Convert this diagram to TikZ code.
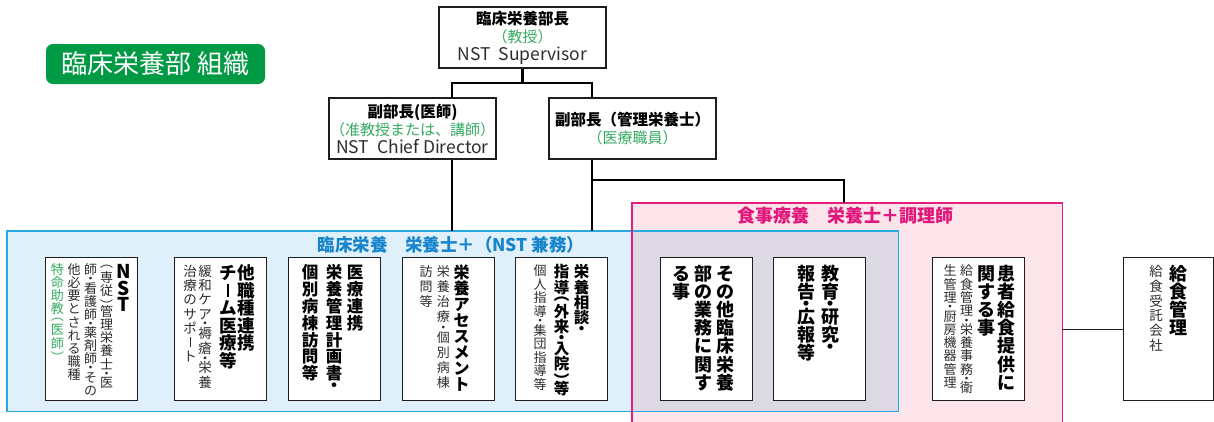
\documentclass[tikz,border=0pt]{standalone}
\usepackage{fontspec}
\setmainfont{Noto Sans CJK JP}
\definecolor{tgreen}{RGB}{0,153,68}
\definecolor{ngreen}{RGB}{52,170,96}
\definecolor{txt}{RGB}{45,45,45}
\definecolor{boxline}{RGB}{30,30,30}
\definecolor{bluel}{RGB}{40,168,224}
\definecolor{bluef}{RGB}{223,240,250}
\definecolor{bluet}{RGB}{24,132,204}
\definecolor{pinkl}{RGB}{228,30,126}
\definecolor{pinkf}{RGB}{251,228,234}
\definecolor{pinkt}{RGB}{226,22,122}
\definecolor{ovf}{RGB}{220,216,228}
\makeatletter
\newdimen\vt@p
\newdimen\vtbarw \vtbarw=1pt
\newcount\vt@g
\newdimen\vt@t \newdimen\vt@d \newdimen\vt@l \newdimen\vt@r
\def\vt@lp{（}\def\vt@rp{）}\def\vt@dot{・}\def\vt@bar{ー}
\newcommand\vtcol[2]{\vt@p=#1\relax\vbox{\offinterlineskip\vt@loop#2\relax}}
\def\vt@loop#1{\ifx\relax#1\else\vt@one{#1}\expandafter\vt@loop\fi}
\def\vt@one#1{\def\vt@c{#1}%
  \ifx\vt@c\vt@lp\vt@part{︵}{.3}\else
  \ifx\vt@c\vt@rp\vt@part{︶}{.3}\else
  \ifx\vt@c\vt@dot\vt@part{・}{.2}\else
  \ifx\vt@c\vt@bar\vt@barcell\else
  \vt@full{#1}\fi\fi\fi\fi}
\def\vt@full#1{\hbox to 1em{\hss\smash{#1}\hss
   \vrule width0pt height\dimexpr.5\vt@p+.38em\relax depth\dimexpr.5\vt@p-.38em\relax}}
\def\vt@part#1#2{%
  \vt@g=\XeTeXcharglyph`#1\relax
  \vt@t=\XeTeXglyphbounds2 \vt@g
  \vt@d=\XeTeXglyphbounds4 \vt@g
  \vt@l=\XeTeXglyphbounds1 \vt@g
  \vt@r=\XeTeXglyphbounds3 \vt@g
  \hbox to 1em{\hss\kern\dimexpr\vt@r-\vt@l\relax
    \smash{\raise\dimexpr(\vt@d-\vt@t)/2\relax\hbox{#1}}\hss
    \vrule width0pt height#2\vt@p depth#2\vt@p}}
\def\vt@barcell{\hbox to 1em{\hss\vrule width\vtbarw height.74em depth-.02em\hss
  \vrule width0pt height\dimexpr.5\vt@p+.38em\relax depth\dimexpr.5\vt@p-.38em\relax}}
\makeatother
\newcommand\vc[6]{\node[col,#4] (#1) at (#2,#3) {\vtcol{#5pt}{#6}};}
\begin{document}
\begin{tikzpicture}[x=1pt,y=-1pt,
  wbox/.style={draw=boxline, line width=1.2pt, fill=white, minimum width=92pt, minimum height=143pt, anchor=north west, inner sep=0pt},
  headbox/.style={draw=boxline, line width=1.1pt, fill=white, align=center, inner sep=0pt, minimum height=61pt, minimum width=167pt, font={\fontsize{15}{18}\selectfont}},
  conn/.style={line width=2.6pt, black},
  col/.style={inner sep=0pt, anchor=north},
  vb/.style={text=black, font={\fontsize{#1}{#1}\selectfont\bfseries\setlength\vtbarw{.11em}}},
  vr/.style={text=txt, font={\fontsize{#1}{#1}\selectfont\setlength\vtbarw{.07em}}},
  vg/.style={text=ngreen, font={\fontsize{#1}{#1}\selectfont\setlength\vtbarw{.07em}}},
  region/.style={anchor=north west, inner sep=0pt}
]
\useasboundingbox (0,0) rectangle (1214,421);
% regions
\node[region, fill=pinkf, minimum width=430pt, minimum height=240pt] (pink) at (632,203) {};
\node[region, fill=bluef, minimum width=891pt, minimum height=180pt] (blue) at (7,231) {};
\fill[ovf] (pink.north west |- blue.north) rectangle (blue.south east);
\draw[bluel, line width=1.2pt] (blue.south west) rectangle (blue.north east);
\draw[pinkl, line width=1.2pt] (pink.south west) rectangle (pink.north east);
\node[text=bluet, font={\fontsize{17.5}{17.5}\selectfont\bfseries}] (bl) at (451,245) {臨床栄養　栄養士＋（NST 兼務）};
\node[text=pinkt, font={\fontsize{18}{18}\selectfont\bfseries}] (pl) at (845,216) {食事療養　栄養士＋調理師};
% title
\node[fill=tgreen, rounded corners=7pt, minimum width=219pt, minimum height=40pt, inner sep=0pt, text=white, font={\fontsize{26}{26}\selectfont}] (title) at (155.5,64) {臨床栄養部 組織};
% head boxes
\node[headbox] (top) at (522.5,37.5) {{\fontsize{15.5}{18}\selectfont\bfseries 臨床栄養部長}\\\textcolor{ngreen}{（教授）}\\\textcolor{txt}{\fontsize{17.5}{18}\selectfont NST\ \ Supervisor}};
\node[headbox] (d1) at (412.5,128.5) {{\fontsize{15.5}{18}\selectfont\bfseries 副部長(医師)}\\\textcolor{ngreen}{（准教授または、講師）}\\\textcolor{txt}{\fontsize{17.5}{18}\selectfont NST\ \ Chief Director}};
\node[headbox] (d2) at (632.5,128.5) {{\fontsize{15.5}{18}\selectfont\bfseries 副部長（管理栄養士）}\\\textcolor{ngreen}{（医療職員）}};
% connectors
\coordinate (j1) at (522.5,83);
\coordinate (d1t) at (452,98);
\coordinate (d2t) at (592,98);
\coordinate (j2) at (592,180);
\coordinate (pkt) at (844,203);
\draw[conn] (top.south) -- (j1);
\draw[conn] (d1t) |- (j1) -| (d2t);
\draw[conn] (d1t |- d1.south) -- (d1t |- blue.north);
\draw[conn] (d2t |- d2.south) -- (d2t |- blue.north);
\draw[conn] (j2) -| (pkt);
% white boxes
\node[wbox] (b1) at (45,257) {};
\node[wbox] (b2) at (174,257) {};
\node[wbox] (b3) at (288,257) {};
\node[wbox] (b4) at (402,257) {};
\node[wbox] (b5) at (515,257) {};
\node[wbox] (b6) at (660,257) {};
\node[wbox] (b7) at (773,257) {};
\node[wbox] (b8) at (932,257) {};
\node[wbox, minimum width=90pt] (b9) at (1123,257) {};
\draw[boxline, line width=1pt] (b9.west -| pink.east) -- (b9.west);
% vertical columns
\vc{b1c1}{123.3}{263}{vb=19}{16.5}{NST}
\vc{b1c2}{106.7}{263}{vr=13}{13.1}{（専従）管理栄養士・医}
\vc{b1c3}{90.7}{263}{vr=13}{13.1}{師・看護師・薬剤師・その}
\vc{b1c4}{74}{263}{vr=13}{13.1}{他必要とされる職種}
\vc{b1c5}{57.3}{263}{vg=13}{13.1}{特命助教（医師）}
\vc{b2c1}{246.7}{264}{vb=17.5}{17.5}{他職種連携}
\vc{b2c2}{228}{264}{vb=17.5}{17.5}{チーム医療等}
\vc{b2c3}{205}{264}{vr=13.5}{14.2}{緩和ケア・褥瘡・栄養}
\vc{b2c4}{190}{264}{vr=13.5}{14.2}{治療のサポート}
\vc{b3c1}{355}{264}{vb=16.5}{16.8}{医療連携}
\vc{b3c2}{334}{264}{vb=16.5}{16.8}{栄養管理計画書・}
\vc{b3c3}{310}{264}{vb=16.5}{16.8}{個別病棟訪問等}
\vc{b4c1}{461.7}{264}{vb=16}{16}{栄養アセスメント}
\vc{b4c2}{443.3}{264}{vr=13}{15}{栄養治療・個別病棟}
\vc{b4c3}{426}{264}{vr=13}{15}{訪問等}
\vc{b5c1}{581.7}{264}{vb=15.5}{15.3}{栄養相談・}
\vc{b5c2}{561.7}{264}{vb=15.5}{15.3}{指導（外来・入院）等}
\vc{b5c3}{540}{264}{vr=13}{13.5}{個人指導・集団指導等}
\vc{b6c1}{725}{264}{vb=18}{18.2}{その他臨床栄養}
\vc{b6c2}{703.3}{264}{vb=18}{18.2}{部の業務に関す}
\vc{b6c3}{681.7}{264}{vb=18}{18.2}{る事}
\vc{b7c1}{830}{264}{vb=18}{18}{教育・研究・}
\vc{b7c2}{806.7}{264}{vb=18}{18}{報告・広報等}
\vc{b8c1}{1006.7}{264}{vb=18}{18.2}{患者給食提供に}
\vc{b8c2}{986}{264}{vb=18}{18.2}{関する事}
\vc{b8c3}{966.7}{264}{vr=13}{13.3}{給食管理・栄養事務・衛}
\vc{b8c4}{950}{264}{vr=13}{13.3}{生管理・厨房機器管理}
\vc{b9c1}{1178.3}{264}{vb=18}{18}{給食管理}
\vc{b9c2}{1156}{264}{vr=13.5}{14.7}{給食受託会社}
\end{tikzpicture}
\end{document}
